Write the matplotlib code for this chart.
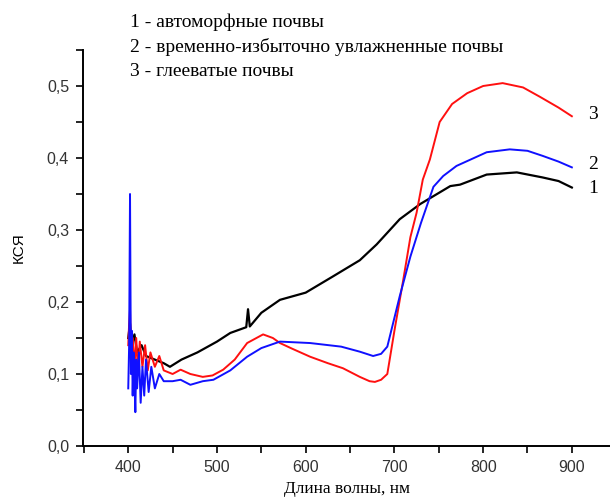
import matplotlib
matplotlib.use('Agg')
import matplotlib.pyplot as plt
from matplotlib.ticker import MultipleLocator, FuncFormatter

# 1 - автоморфные почвы
wl_1 = [400, 402, 404, 407, 410, 415, 420, 430, 440, 447, 460, 478, 500,
        515, 533, 535, 537, 550, 571, 600, 630, 661, 680, 706, 729, 763,
        774, 804, 838, 867, 885, 900]
ksy_1 = [0.15, 0.17, 0.14, 0.155, 0.13, 0.14, 0.125, 0.12, 0.115, 0.11,
         0.12, 0.13, 0.145, 0.157, 0.165, 0.19, 0.166, 0.185, 0.203, 0.213,
         0.235, 0.258, 0.28, 0.315, 0.336, 0.361, 0.363, 0.377, 0.38, 0.373,
         0.368, 0.359]

# 2 - временно-избыточно увлажненные почвы
wl_2 = [400, 401, 402, 403, 404, 405, 406, 407, 408, 409, 410, 412, 414,
        416, 418, 420, 423, 426, 430, 435, 440, 450, 459, 470, 484, 496,
        515, 534, 550, 571, 605, 640, 661, 676, 685, 692, 706, 718, 730,
        744, 755, 770, 804, 830, 850, 867, 885, 900]
ksy_2 = [0.08, 0.14, 0.35, 0.10, 0.16, 0.07, 0.13, 0.09, 0.047, 0.12, 0.08,
         0.13, 0.06, 0.11, 0.07, 0.12, 0.075, 0.11, 0.08, 0.10, 0.09, 0.09,
         0.092, 0.085, 0.09, 0.092, 0.105, 0.124, 0.136, 0.145, 0.143, 0.138,
         0.131, 0.125, 0.128, 0.138, 0.208, 0.263, 0.31, 0.36, 0.375, 0.389,
         0.408, 0.412, 0.41, 0.403, 0.395, 0.387]

# 3 - глееватые почвы
wl_3 = [400, 401, 402, 403, 405, 407, 409, 411, 413, 416, 419, 422, 425,
        430, 435, 440, 450, 459, 470, 484, 495, 507, 520, 534, 552, 563,
        571, 585, 605, 625, 642, 661, 672, 678, 685, 692, 700, 710, 718,
        725, 732, 740, 751, 765, 782, 800, 822, 845, 864, 885, 900]
ksy_3 = [0.14, 0.17, 0.19, 0.13, 0.15, 0.11, 0.15, 0.10, 0.145, 0.11,
         0.14, 0.105, 0.13, 0.11, 0.125, 0.105, 0.10, 0.106, 0.10, 0.096,
         0.098, 0.106, 0.12, 0.143, 0.155, 0.150, 0.143, 0.135, 0.124, 0.115,
         0.108, 0.096, 0.09, 0.089, 0.092, 0.10, 0.16, 0.231, 0.29, 0.324,
         0.37, 0.398, 0.45, 0.475, 0.49, 0.5, 0.504, 0.498, 0.485, 0.47,
         0.458]

legend_lines = ['1 - автоморфные почвы',
                '2 - временно-избыточно увлажненные почвы',
                '3 - глееватые почвы']
end_labels = ['1', '2', '3']
end_y = [0.357, 0.391, 0.461]

serif = ['Liberation Serif', 'DejaVu Serif']
sans = ['Liberation Sans', 'DejaVu Sans']


def main():
    fig = plt.figure(figsize=(6.1, 5.0), dpi=100)
    ax = fig.add_axes([83 / 610, 54 / 500, 527 / 610, 396 / 500])

    ax.plot(wl_1, ksy_1, color='black', lw=1.6)
    ax.plot(wl_3, ksy_3, color='#ff1010', lw=1.4)
    ax.plot(wl_2, ksy_2, color='#1010ff', lw=1.4)

    ax.set_xlim(349, 943)
    ax.set_ylim(0, 0.55)

    for side in ('top', 'right'):
        ax.spines[side].set_visible(False)
    for side in ('left', 'bottom'):
        ax.spines[side].set_linewidth(1.4)

    ax.xaxis.set_major_locator(MultipleLocator(100))
    ax.xaxis.set_minor_locator(MultipleLocator(50))
    ax.yaxis.set_major_locator(MultipleLocator(0.1))
    ax.yaxis.set_minor_locator(MultipleLocator(0.05))
    ax.yaxis.set_major_formatter(
        FuncFormatter(lambda v, pos: f'{v:.1f}'.replace('.', ',')))
    ax.tick_params(which='both', direction='out', width=1.2, length=5,
                   pad=5, labelsize=11.5, labelcolor='#333333')
    for lab in ax.get_xticklabels() + ax.get_yticklabels():
        lab.set_family(sans)

    ax.set_xlabel('Длина волны, нм', family=serif, fontsize=12.5)
    ax.xaxis.set_label_coords(0.5, -0.088)
    ax.set_ylabel('КСЯ', family=sans, fontsize=11)
    ax.yaxis.set_label_coords(-0.108, 0.5)

    for lab, y in zip(end_labels, end_y):
        ax.text(918, y, lab, family=serif, fontsize=14, va='center')

    for i, line in enumerate(legend_lines):
        fig.text(130 / 610, 1 - (22 + 24.5 * i) / 500, line, family=serif,
                 fontsize=14, va='center')

    fig.savefig('out.png', dpi=100)


if __name__ == '__main__':
    main()
